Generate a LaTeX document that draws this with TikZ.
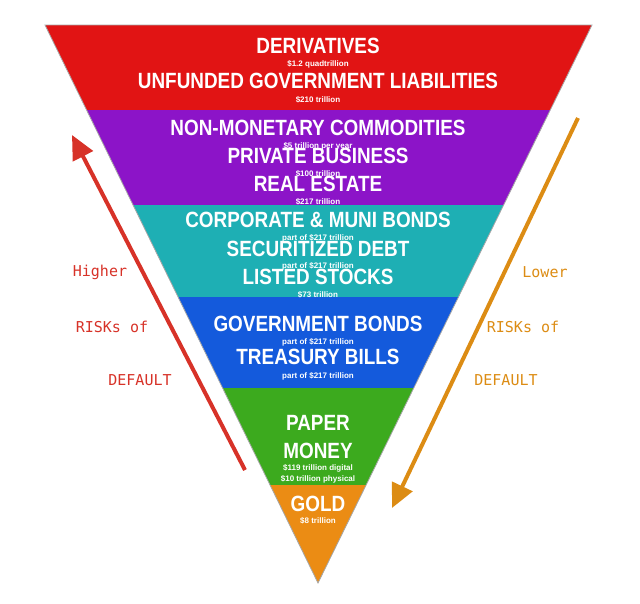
\documentclass[tikz,border=0pt]{standalone}
\usepackage{fontspec}
\setmainfont{Liberation Sans}
\newfontfamily\notefont{DejaVu Sans Mono}
\usetikzlibrary{arrows.meta}
\definecolor{bandred}{RGB}{225,20,20}
\definecolor{bandpurple}{RGB}{140,20,200}
\definecolor{bandteal}{RGB}{30,175,180}
\definecolor{bandblue}{RGB}{20,90,220}
\definecolor{bandgreen}{RGB}{60,170,30}
\definecolor{bandorange}{RGB}{235,140,20}
\definecolor{notered}{RGB}{215,50,40}
\definecolor{noteorange}{RGB}{220,140,20}
\tikzset{
	title/.style={text=white, font=\bfseries\fontsize{21}{21}\selectfont, xscale=0.9, yscale=1.05, inner sep=0pt},
	amount/.style={text=white, font=\bfseries\fontsize{8}{8}\selectfont, inner sep=0pt},
	redtxt/.style={text=notered, font=\notefont\fontsize{15}{15}\selectfont},
	orangetxt/.style={text=noteorange, font=\notefont\fontsize{15}{15}\selectfont}
}
\begin{document}
\begin{tikzpicture}[x=1pt, y=-1pt]
	\useasboundingbox (0,0) rectangle (640,603);

		%triangle corners
		\coordinate (tl) at (45,25);
		\coordinate (tr) at (592,25);
		\coordinate (apex) at (318,583);

		%bands
		\begin{scope}
			\clip (tl) -- (tr) -- (apex) -- cycle;
			\fill[bandred] (0,25) rectangle (640,110);
			\fill[bandpurple] (0,110) rectangle (640,205);
			\fill[bandteal] (0,205) rectangle (640,297);
			\fill[bandblue] (0,297) rectangle (640,388);
			\fill[bandgreen] (0,388) rectangle (640,485);
			\fill[bandorange] (0,485) rectangle (640,585);
		\end{scope}
		\draw[gray!70, line width=0.8pt] (tl) -- (tr) -- (apex) -- cycle;

		%band titles
		\node[title] (deriv) at (318,46) {DERIVATIVES};
		\node[amount] (derivamt) at (318,64) {\$1.2 quadtrillion};
		\node[title] (unfund) at (318,81) {UNFUNDED GOVERNMENT LIABILITIES};
		\node[amount] (unfundamt) at (318,100) {\$210 trillion};
		\node[title] (nonmon) at (318,128) {NON-MONETARY COMMODITIES};
		\node[amount] (nonmonamt) at (318,146) {\$5 trillion per year};
		\node[title] (privbus) at (318,156) {PRIVATE BUSINESS};
		\node[amount] (privbusamt) at (318,174) {\$100 trillion};
		\node[title] (realest) at (318,184) {REAL ESTATE};
		\node[amount] (realestamt) at (318,202) {\$217 trillion};
		\node[title] (corp) at (318,220) {CORPORATE \& MUNI BONDS};
		\node[amount] (corpamt) at (318,238) {part of \$217 trillion};
		\node[title] (secur) at (318,249) {SECURITIZED DEBT};
		\node[amount] (securamt) at (318,266) {part of \$217 trillion};
		\node[title] (listed) at (318,277) {LISTED STOCKS};
		\node[amount] (listedamt) at (318,295) {\$73 trillion};
		\node[title] (govbond) at (318,324) {GOVERNMENT BONDS};
		\node[amount] (govbondamt) at (318,342) {part of \$217 trillion};
		\node[title] (tbill) at (318,357) {TREASURY BILLS};
		\node[amount] (tbillamt) at (318,376) {part of \$217 trillion};
		\node[title] (paper) at (318,423) {PAPER};
		\node[title] (money) at (318,451) {MONEY};
		\node[amount] (digital) at (318,468) {\$119 trillion digital};
		\node[amount] (physical) at (318,479) {\$10 trillion physical};
		\node[title] (gold) at (318,504) {GOLD};
		\node[amount] (goldamt) at (318,521) {\$8 trillion};

		%risk arrows
		\coordinate (rstart) at (245,470);
		\coordinate (rend) at (72,135);
		\coordinate (ostart) at (578,118);
		\coordinate (oend) at (392,508);
		\draw[notered, line width=4pt, -{Triangle[length=24pt, width=22pt]}] (rstart) -- (rend);
		\draw[noteorange, line width=4pt, -{Triangle[length=24pt, width=22pt]}] (ostart) -- (oend);

		%risk labels
		\node[redtxt] (higher) at (100,272) {Higher};
		\node[redtxt] (riskl) at (112,327) {RISKs of};
		\node[redtxt] (defl) at (140,380) {DEFAULT};
		\node[orangetxt] (lower) at (545,272) {Lower};
		\node[orangetxt] (riskr) at (523,327) {RISKs of};
		\node[orangetxt] (defr) at (506,380) {DEFAULT};

	\end{tikzpicture}
\end{document}
